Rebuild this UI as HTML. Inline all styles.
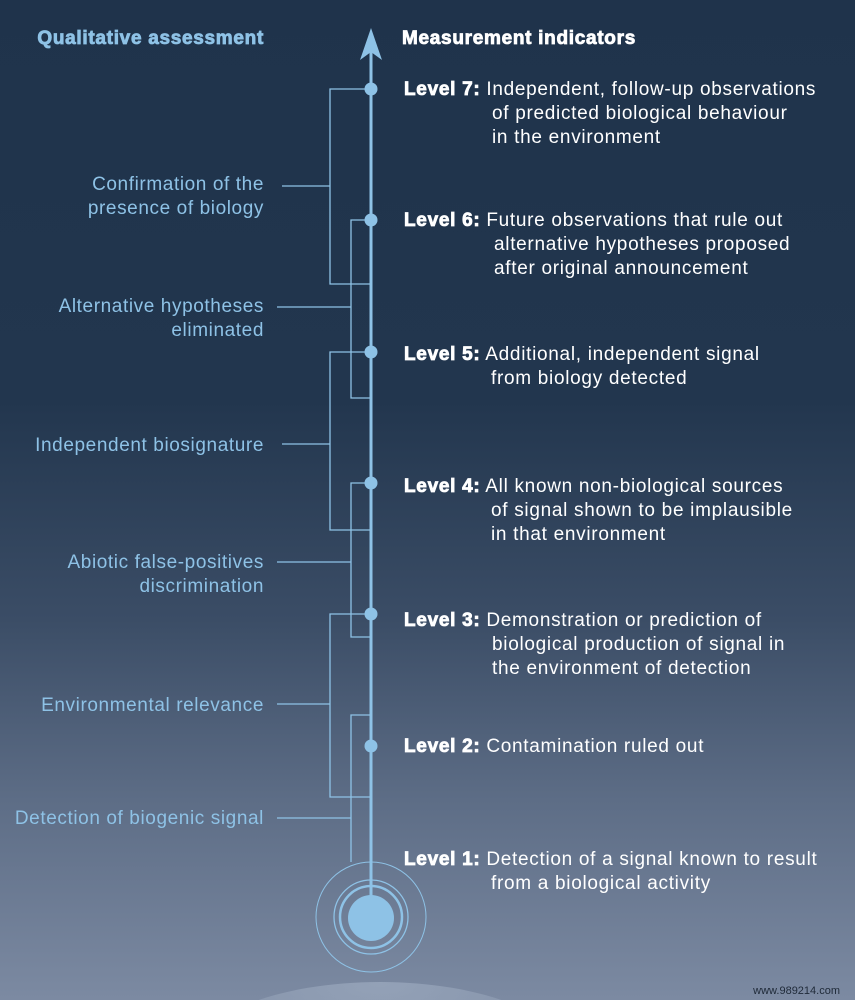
<!DOCTYPE html>
<html><head><meta charset="utf-8"><style>
html,body{margin:0;padding:0;width:855px;height:1000px;overflow:hidden}
body{background:linear-gradient(to bottom,#1f334b 0%,#22364e 40%,#3b4d66 62%,#5d6d86 80%,#7c8aa2 100%);font-family:"Liberation Sans",sans-serif}
svg{display:block;overflow:hidden}
</style></head><body>
<svg width="855" height="1000" xmlns="http://www.w3.org/2000/svg" style="position:absolute;left:0;top:0">
<defs><radialGradient id="g" cx="0.5" cy="0" r="0.6"><stop offset="0" stop-color="#9aa8bd"/><stop offset="1" stop-color="#8492a9"/></radialGradient></defs>
<ellipse cx="380" cy="1060" rx="190" ry="78" fill="url(#g)" opacity="0.8"/>
<g stroke="#8ec2e6" fill="none" stroke-width="1.3">
<polyline points="371,89 330,89 330,284 371,284"/><line x1="282" y1="186" x2="330" y2="186"/>
<polyline points="371,220 351,220 351,398 371,398"/><line x1="277" y1="307" x2="351" y2="307"/>
<polyline points="371,352 330,352 330,530 371,530"/><line x1="282" y1="444" x2="330" y2="444"/>
<polyline points="371,483 351,483 351,637 371,637"/><line x1="277" y1="562" x2="351" y2="562"/>
<polyline points="371,614 330,614 330,797 371,797"/><line x1="277" y1="704" x2="330" y2="704"/>
<polyline points="371,715 351,715 351,862"/><line x1="277" y1="818" x2="351" y2="818"/>
<circle cx="371" cy="917" r="55" stroke-width="1"/>
<circle cx="371" cy="917" r="37" stroke-width="1.3"/>
<circle cx="371" cy="917" r="31" stroke-width="2.5"/>
</g>
<line x1="371" y1="40" x2="371" y2="900" stroke="#8ec2e6" stroke-width="3"/>
<polygon points="371,28 360,60 371,52 382,60" fill="#8ec2e6"/>
<g fill="#8ec2e6">
<circle cx="371" cy="89" r="6.5"/><circle cx="371" cy="220" r="6.5"/><circle cx="371" cy="352" r="6.5"/><circle cx="371" cy="483" r="6.5"/><circle cx="371" cy="614" r="6.5"/><circle cx="371" cy="746" r="6.5"/>
<circle cx="371" cy="918" r="23"/>
</g>
<g font-family="Liberation Sans, sans-serif" font-size="19" letter-spacing="0.6">
<text x="264" y="44" text-anchor="end" font-weight="bold" fill="#8ec2e6" stroke="#8ec2e6" stroke-width="0.8" letter-spacing="0.7">Qualitative assessment</text>
<text x="402" y="44" font-weight="bold" fill="#fff" stroke="#fff" stroke-width="0.8" letter-spacing="0.7">Measurement indicators</text>
<g fill="#8ec2e6" text-anchor="end">
<text x="264" y="190">Confirmation of the</text><text x="264" y="214">presence of biology</text>
<text x="264" y="312">Alternative hypotheses</text><text x="264" y="336">eliminated</text>
<text x="264" y="451">Independent biosignature</text>
<text x="264" y="568">Abiotic false-positives</text><text x="264" y="592">discrimination</text>
<text x="264" y="711">Environmental relevance</text>
<text x="264" y="824">Detection of biogenic signal</text>
</g>
<g fill="#fff" letter-spacing="0.7">
<text x="404" y="95"><tspan font-weight="bold" stroke="#fff" stroke-width="0.8">Level 7:</tspan> Independent, follow-up observations</text>
<text x="492" y="119">of predicted biological behaviour</text><text x="492" y="143">in the environment</text>
<text x="404" y="226"><tspan font-weight="bold" stroke="#fff" stroke-width="0.8">Level 6:</tspan> Future observations that rule out</text>
<text x="494" y="250">alternative hypotheses proposed</text><text x="494" y="274">after original announcement</text>
<text x="404" y="360"><tspan font-weight="bold" stroke="#fff" stroke-width="0.8">Level 5:</tspan> Additional, independent signal</text>
<text x="491" y="384">from biology detected</text>
<text x="404" y="492"><tspan font-weight="bold" stroke="#fff" stroke-width="0.8">Level 4:</tspan> All known non-biological sources</text>
<text x="491" y="516">of signal shown to be implausible</text><text x="491" y="540">in that environment</text>
<text x="404" y="626"><tspan font-weight="bold" stroke="#fff" stroke-width="0.8">Level 3:</tspan> Demonstration or prediction of</text>
<text x="492" y="650">biological production of signal in</text><text x="492" y="674">the environment of detection</text>
<text x="404" y="752"><tspan font-weight="bold" stroke="#fff" stroke-width="0.8">Level 2:</tspan> Contamination ruled out</text>
<text x="404" y="865"><tspan font-weight="bold" stroke="#fff" stroke-width="0.8">Level 1:</tspan> Detection of a signal known to result</text>
<text x="491" y="889">from a biological activity</text>
</g>
<text x="840" y="994" text-anchor="end" font-size="11" letter-spacing="0" fill="#1f2a38">www.989214.com</text>
</g>
</svg>
</body></html>
